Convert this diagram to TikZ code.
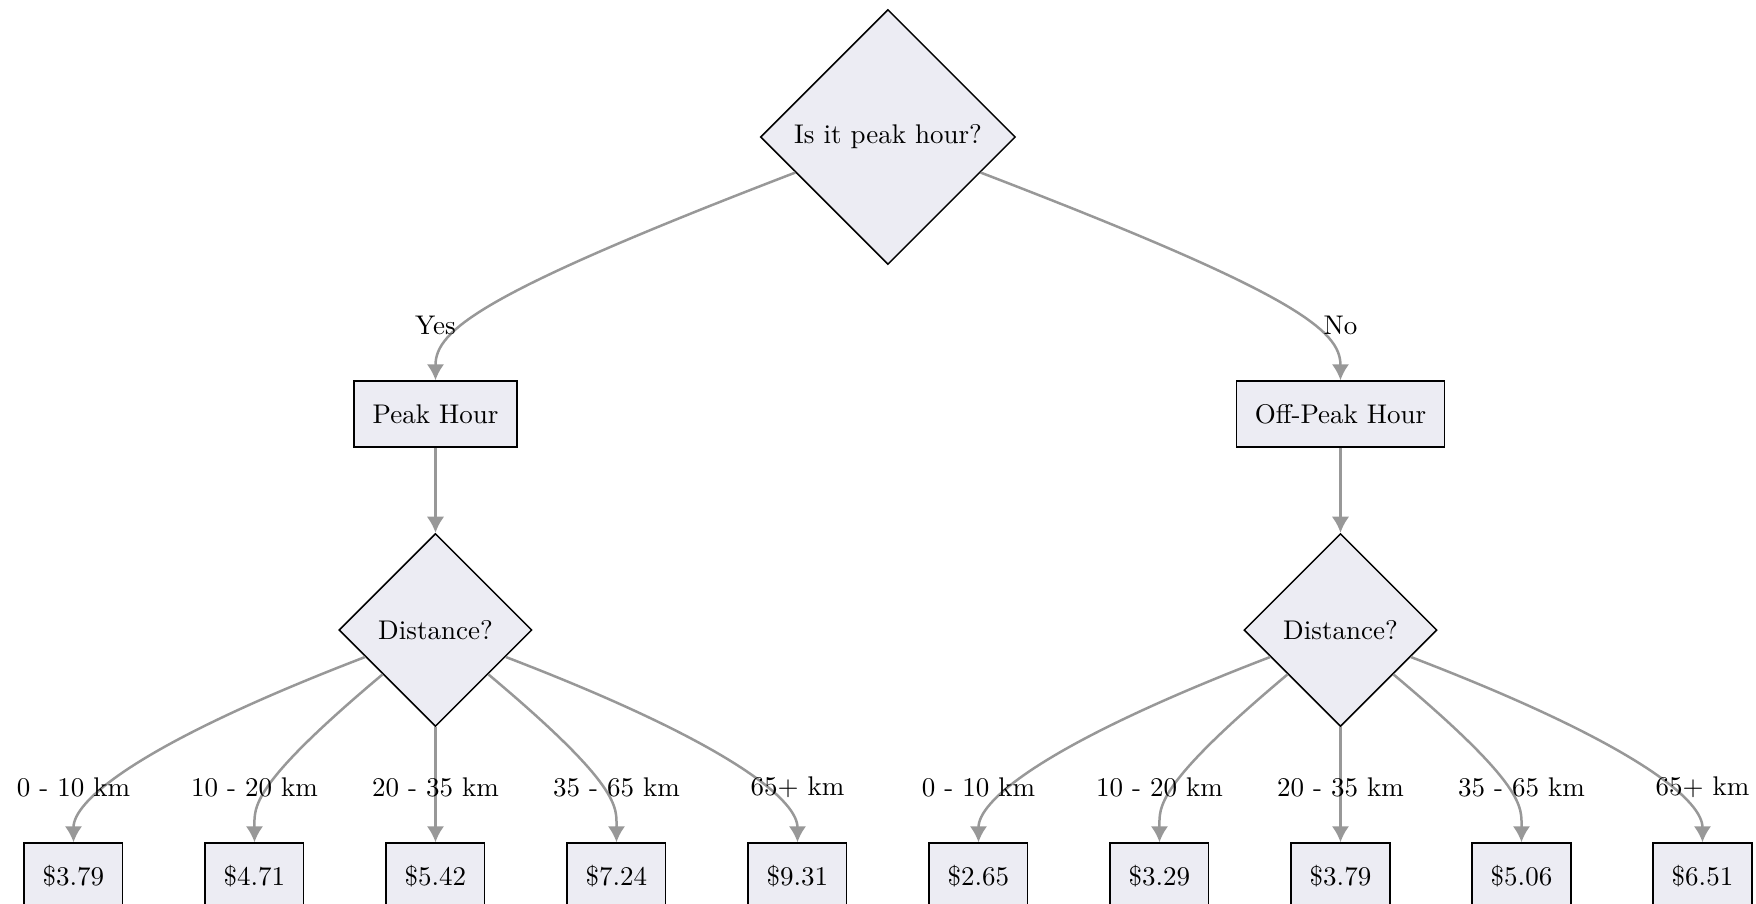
\documentclass[tikz,border=0pt]{standalone}
\usetikzlibrary{positioning,shapes.geometric,arrows.meta}
\definecolor{nodefill}{RGB}{236,236,243}
\definecolor{edgegray}{RGB}{152,152,152}

\begin{document}
\begin{tikzpicture}[
    node distance = 46pt and 0pt,
    base/.style      = {draw,
                        fill=nodefill,
                        line width=0.6pt,
                        font=\fontsize{10.8}{13}\selectfont},
    decision/.style  = {base, diamond, aspect=1, inner sep=0pt},
    boxnode/.style   = {base, rectangle,
                        minimum height=26.4pt,
                        inner xsep=7.4pt},
    leaf/.style      = {boxnode, minimum width=38.4pt},
    arr/.style       = {draw=edgegray, line width=1pt,
                        -{Latex[length=6.4pt,width=7pt]}},
    lbl/.style       = {at end, yshift=22pt, text=black,
                        font=\fontsize{10.8}{13}\selectfont},
    farleft/.style   = {out=201, in=90, out distance=100pt, in distance=16pt},
    nearleft/.style  = {out=220, in=90, out distance=70pt, in distance=14pt},
    nearright/.style = {out=-40, in=90, out distance=70pt, in distance=14pt},
    farright/.style  = {out=-21, in=90, out distance=100pt, in distance=16pt}
]
\useasboundingbox (-355.2pt,-306.8pt) rectangle (347.2pt,54.8pt);
\node (root) [decision, minimum size=102pt] {Is it peak hour?};
\node (peak) [boxnode, below=of root, xshift=-181pt] {Peak Hour};
\node (offpeak) [boxnode, below=of root, xshift=181pt] {Off-Peak Hour};
\draw[arr] (root) to[farleft, out distance=135pt, in distance=20pt] node[lbl] {Yes} (peak);
\draw[arr] (root) to[farright, out distance=135pt, in distance=20pt] node[lbl] {No} (offpeak);
\node (distpeak) [decision, minimum size=77.2pt, below=34pt of peak] {Distance?};
\node (distoff) [decision, minimum size=77.2pt, below=34pt of offpeak] {Distance?};
\draw[arr] (peak) -- (distpeak);
\draw[arr] (offpeak) -- (distoff);
\node (p1) [leaf, below=of distpeak, xshift=-144.8pt] {\$3.79};
\node (p2) [leaf, below=of distpeak, xshift=-72.4pt] {\$4.71};
\node (p3) [leaf, below=of distpeak] {\$5.42};
\node (p4) [leaf, below=of distpeak, xshift=72.4pt] {\$7.24};
\node (p5) [leaf, below=of distpeak, xshift=144.8pt] {\$9.31};
\draw[arr] (distpeak) to[farleft] node[lbl] {0 - 10 km} (p1);
\draw[arr] (distpeak) to[nearleft] node[lbl] {10 - 20 km} (p2);
\draw[arr] (distpeak) -- node[lbl] {20 - 35 km} (p3);
\draw[arr] (distpeak) to[nearright] node[lbl] {35 - 65 km} (p4);
\draw[arr] (distpeak) to[farright] node[lbl] {65+ km} (p5);
\node (o1) [leaf, below=of distoff, xshift=-144.8pt] {\$2.65};
\node (o2) [leaf, below=of distoff, xshift=-72.4pt] {\$3.29};
\node (o3) [leaf, below=of distoff] {\$3.79};
\node (o4) [leaf, below=of distoff, xshift=72.4pt] {\$5.06};
\node (o5) [leaf, below=of distoff, xshift=144.8pt] {\$6.51};
\draw[arr] (distoff) to[farleft] node[lbl] {0 - 10 km} (o1);
\draw[arr] (distoff) to[nearleft] node[lbl] {10 - 20 km} (o2);
\draw[arr] (distoff) -- node[lbl] {20 - 35 km} (o3);
\draw[arr] (distoff) to[nearright] node[lbl] {35 - 65 km} (o4);
\draw[arr] (distoff) to[farright] node[lbl] {65+ km} (o5);
\end{tikzpicture}
\end{document}
